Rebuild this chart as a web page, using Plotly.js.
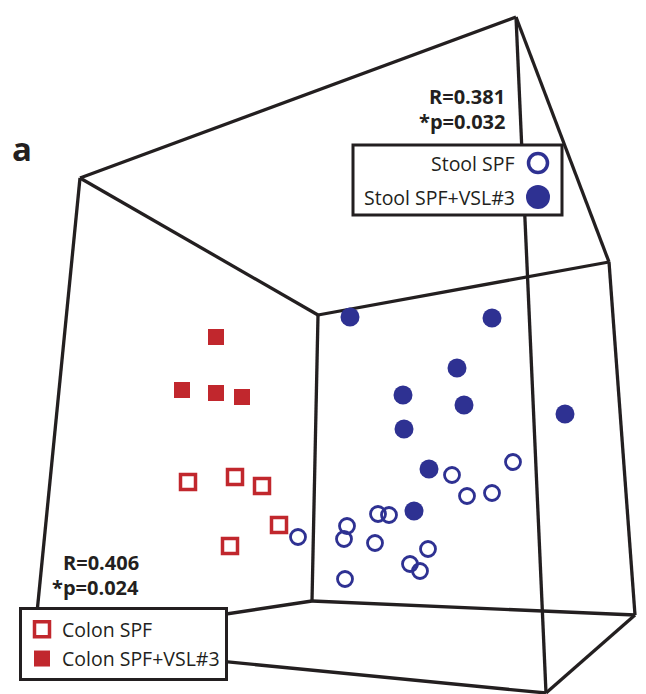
<!DOCTYPE html>
<html>
<head>
<meta charset="utf-8">
<script src="https://cdn.plot.ly/plotly-3.0.1.min.js"></script>
<style>html,body{margin:0;padding:0;background:#fff;}#chart{width:646px;height:694px;}</style>
</head>
<body>
<div id="chart"></div>
<script>
// Projected ordination coordinates
const colonSPF_x = [188, 235, 262, 279, 230];
const colonSPF_y = [482, 477, 486, 525, 546];
const colonVSL_x = [216, 182, 216, 242];
const colonVSL_y = [337, 390, 393, 397];
const stoolSPF_x = [452, 513, 467, 492, 378, 389, 347, 344, 375, 298, 428, 410, 420, 345];
const stoolSPF_y = [475, 462, 496, 493, 514, 515, 526, 539, 543, 537, 549, 564, 571, 579];
const stoolVSL_x = [350, 492, 457, 403, 464, 565, 404, 429, 414];
const stoolVSL_y = [317, 318, 368, 395, 405, 414, 429, 469, 511];

const seriesNames = ["Colon SPF", "Colon SPF+VSL#3", "Stool SPF", "Stool SPF+VSL#3"];
const statsColon = ["R=0.406", "*p=0.024"];
const statsStool = ["R=0.381", "*p=0.032"];
const panelLabel = "a";

// Box frame (projected cube corners) and its edges
const corners = {A:[80,178], B:[516,17], C:[609,262], D:[318,315], E:[312,601], F:[635,615], G:[546,693], H:[34,643]};
const edges = [["A","B"],["B","C"],["A","D"],["D","C"],["D","E"],["E","F"],["C","F"],["B","G"],["F","G"],["A","H"],["H","E"],["H","G"]];

const RED = "#c1272d", BLUE = "#2e3192", INK = "#231f20";
const FONT = "Open Sans, Noto Sans, sans-serif";

const traces = [
  {x: colonSPF_x, y: colonSPF_y, name: seriesNames[0], type: "scatter", mode: "markers", legendgroup: "g1",
   marker: {symbol: "square-open", size: 15, color: RED, line: {width: 3.5, color: RED}}},
  {x: colonVSL_x, y: colonVSL_y, name: seriesNames[1], type: "scatter", mode: "markers", legendgroup: "g2",
   marker: {symbol: "square", size: 16, color: RED, line: {width: 0}}},
  {x: stoolSPF_x, y: stoolSPF_y, name: seriesNames[2], type: "scatter", mode: "markers", showlegend: false,
   marker: {symbol: "circle-open", size: 15, color: BLUE, line: {width: 2.8, color: BLUE}}},
  {x: stoolVSL_x, y: stoolVSL_y, name: seriesNames[3], type: "scatter", mode: "markers", showlegend: false,
   marker: {symbol: "circle", size: 19, color: BLUE, line: {width: 0}}}
];

const shapes = edges.map(([p, q]) => ({
  type: "line", xref: "x", yref: "y", layer: "below",
  x0: corners[p][0], y0: corners[p][1], x1: corners[q][0], y1: corners[q][1],
  line: {color: INK, width: 3.3}
}));
// Stool legend box (symbols to the right of the labels)
shapes.push({type: "rect", xref: "x", yref: "y", layer: "above", x0: 353, y0: 145, x1: 562, y1: 215,
  fillcolor: "#fff", line: {color: INK, width: 3}});
shapes.push({type: "circle", xref: "x", yref: "y", layer: "above", x0: 528.5, y0: 153.5, x1: 547.5, y1: 172.5,
  fillcolor: "rgba(0,0,0,0)", line: {color: BLUE, width: 3.5}});
shapes.push({type: "circle", xref: "x", yref: "y", layer: "above", x0: 526, y0: 185, x1: 550, y1: 209,
  fillcolor: BLUE, line: {color: BLUE, width: 0}});

const ann = (text, x, y, xanchor, size, bold) => ({
  text: bold ? "<b>" + text + "</b>" : text, x: x, y: y, xref: "x", yref: "y",
  xanchor: xanchor, yanchor: "middle", showarrow: false,
  font: {family: FONT, size: size, color: INK}
});

const annotations = [
  ann(statsStool[0], 507, 96, "right", 20, true),
  ann(statsStool[1], 507, 121, "right", 20, true),
  ann(statsColon[0], 141, 562, "right", 20, true),
  ann(statsColon[1], 141, 587, "right", 20, true),
  ann(seriesNames[2], 517, 163, "right", 19.5, false),
  ann(seriesNames[3], 517, 197, "right", 19.5, false),
  ann(panelLabel, 10, 148, "left", 33, true)
];

const layout = {
  width: 646, height: 694,
  margin: {l: 0, r: 0, t: 0, b: 0},
  paper_bgcolor: "#fff", plot_bgcolor: "#fff",
  xaxis: {range: [0, 646], visible: false, fixedrange: true},
  yaxis: {range: [694, 0], visible: false, fixedrange: true},
  showlegend: true,
  legend: {
    x: 19 / 646, y: 1 - 607 / 694, xanchor: "left", yanchor: "top",
    bgcolor: "#fff", bordercolor: INK, borderwidth: 3,
    font: {family: FONT, size: 19.5, color: INK},
    traceorder: "grouped", tracegroupgap: 1, itemsizing: "trace"
  },
  shapes: shapes,
  annotations: annotations
};

Plotly.newPlot("chart", traces, layout, {displayModeBar: false, staticPlot: true});
</script>
</body>
</html>
